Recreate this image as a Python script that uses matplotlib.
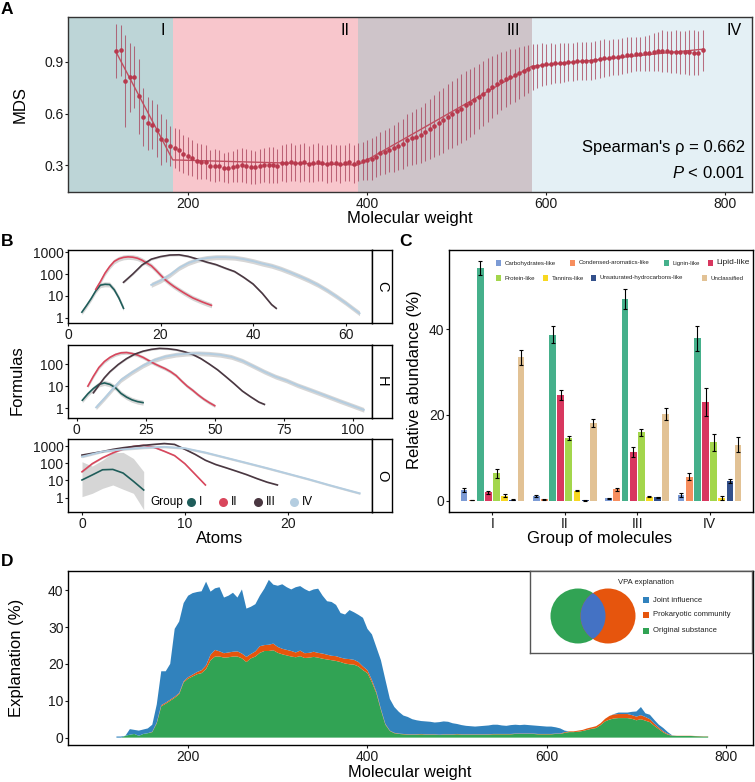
import numpy as np
import matplotlib
matplotlib.use("Agg")
import matplotlib.pyplot as plt
from matplotlib.patches import Rectangle, Circle
from matplotlib.lines import Line2D

plt.rcParams['font.family'] = ['Liberation Sans', 'DejaVu Sans']
plt.rcParams['mathtext.fontset'] = 'custom'
plt.rcParams['mathtext.rm'] = 'Liberation Sans'
plt.rcParams['mathtext.it'] = 'Liberation Sans:italic'

# ---------------- Panel A: MDS vs molecular weight ----------------
mw = np.arange(120, 776, 5)
mds = [0.964, 0.968, 0.79, 0.81, 0.813, 0.70, 0.58, 0.544, 0.536, 0.503,
       0.45, 0.445, 0.41, 0.40, 0.387, 0.362, 0.352, 0.339, 0.325, 0.32,
       0.316, 0.296, 0.296, 0.296, 0.285, 0.285, 0.29, 0.296, 0.30, 0.296,
       0.29, 0.287, 0.296, 0.30, 0.30, 0.30, 0.295, 0.31, 0.313, 0.316,
       0.313, 0.313, 0.316, 0.306, 0.31, 0.316, 0.31, 0.306, 0.31, 0.31,
       0.306, 0.31, 0.316, 0.306, 0.316, 0.323, 0.329, 0.335, 0.348, 0.368,
       0.376, 0.387, 0.397, 0.412, 0.422, 0.445, 0.455, 0.465, 0.474, 0.494,
       0.509, 0.527, 0.546, 0.561, 0.581, 0.596, 0.614, 0.629, 0.647, 0.662,
       0.678, 0.697, 0.716, 0.736, 0.755, 0.770, 0.788, 0.801, 0.813, 0.823,
       0.836, 0.848, 0.861, 0.871, 0.877, 0.883, 0.886, 0.890, 0.892, 0.894,
       0.896, 0.898, 0.902, 0.904, 0.906, 0.906, 0.908, 0.912, 0.917, 0.921,
       0.925, 0.929, 0.931, 0.935, 0.939, 0.943, 0.946, 0.948, 0.950, 0.954,
       0.958, 0.962, 0.964, 0.962, 0.958, 0.960, 0.958, 0.956, 0.956, 0.954,
       0.952, 0.968]
mds_err = [0.155, 0.15, 0.27, 0.20, 0.18, 0.22, 0.17, 0.155, 0.145, 0.155,
           0.15, 0.125, 0.115, 0.115, 0.12, 0.11, 0.11, 0.105, 0.105, 0.10,
           0.10, 0.09, 0.095, 0.09, 0.085, 0.09, 0.09, 0.095, 0.10, 0.10,
           0.10, 0.095, 0.10, 0.10, 0.105, 0.105, 0.10, 0.105, 0.11, 0.11,
           0.105, 0.11, 0.11, 0.105, 0.11, 0.11, 0.105, 0.11, 0.11, 0.105,
           0.11, 0.105, 0.11, 0.11, 0.11, 0.11, 0.115, 0.12, 0.12, 0.125,
           0.13, 0.13, 0.135, 0.14, 0.145, 0.15, 0.155, 0.16, 0.165, 0.17,
           0.175, 0.18, 0.185, 0.19, 0.19, 0.195, 0.195, 0.2, 0.2, 0.2,
           0.195, 0.19, 0.19, 0.185, 0.18, 0.175, 0.17, 0.165, 0.16, 0.155,
           0.15, 0.145, 0.14, 0.135, 0.13, 0.125, 0.12, 0.12, 0.115, 0.115,
           0.115, 0.11, 0.11, 0.11, 0.11, 0.11, 0.11, 0.11, 0.11, 0.11,
           0.105, 0.105, 0.105, 0.105, 0.105, 0.10, 0.10, 0.10, 0.10, 0.105,
           0.11, 0.115, 0.12, 0.12, 0.12, 0.125, 0.125, 0.125, 0.13, 0.13,
           0.13, 0.12]
fit_mw = [120, 183, 390, 584, 776]
fit_mds = [0.955, 0.33, 0.30, 0.875, 0.975]
region_edges = [66, 183, 390, 584, 830]
region_names = ['I', 'II', 'III', 'IV']
region_colors = ['#bdd5d7', '#f8c6cc', '#cec4c9', '#e4f0f5']
region_label_x = [174, 380, 571, 818]

# ---------------- Panel B: formulas vs atoms ----------------
group_names = ['I', 'II', 'III', 'IV']
group_colors = ['#1f5d5a', '#d9465c', '#4a3741', '#b4cde0']

C_atoms = [[3, 4, 5, 6, 7, 8, 9, 10, 11, 12],
           [6, 7, 8, 9, 10, 11, 12, 13, 14, 15, 16, 17, 18, 19, 20, 21, 22, 23, 24, 25, 26, 27, 28, 29, 30, 31],
           [12, 14, 16, 18, 20, 22, 24, 26, 28, 30, 32, 34, 36, 38, 40, 42, 44, 45],
           [18, 20, 22, 24, 26, 28, 30, 32, 34, 36, 38, 40, 42, 44, 46, 48, 50, 52, 54, 56, 58, 60, 62, 63]]
C_n = [[1.8, 3.6, 7.5, 17, 31, 34, 33, 19, 8, 2.7],
       [20, 45, 110, 220, 380, 500, 580, 610, 590, 530, 430, 320, 240, 150, 90, 55, 37, 26, 19, 14, 10.5, 8, 6.5, 5.3, 4.4, 3.7],
       [42, 100, 260, 480, 630, 740, 760, 640, 480, 350, 270, 185, 130, 70, 35, 13, 4, 2.7],
       [32, 50, 90, 190, 320, 450, 540, 590, 590, 560, 480, 390, 300, 240, 175, 120, 80, 52, 32, 18, 9.5, 4.8, 2.3, 1.6]]
H_atoms = [[2, 4, 6, 8, 10, 12, 14, 16, 18, 20, 22, 24],
           [4, 6, 8, 10, 12, 14, 16, 18, 20, 22, 24, 26, 28, 30, 32, 34, 36, 38, 40, 42, 44, 46, 48, 50],
           [6, 8, 10, 12, 15, 18, 21, 24, 27, 30, 33, 36, 39, 42, 45, 48, 51, 54, 57, 60, 63, 66, 68],
           [7, 10, 13, 16, 20, 24, 28, 32, 36, 40, 44, 48, 52, 56, 60, 64, 68, 72, 76, 80, 85, 90, 95, 100, 104]]
H_n = [[2.3, 4.5, 7.8, 12, 14, 12, 8.5, 4.7, 3.2, 2.4, 2.0, 1.8],
       [10, 28, 70, 130, 200, 270, 320, 330, 300, 255, 200, 145, 105, 80, 62, 45, 30, 17, 10, 6.5, 4, 2.6, 1.8, 1.3],
       [5, 11, 24, 45, 95, 175, 280, 380, 460, 510, 490, 440, 360, 270, 175, 100, 55, 27, 13, 6, 3.3, 1.9, 1.5],
       [1.1, 2.8, 7.5, 19, 42, 85, 150, 215, 265, 295, 305, 290, 260, 210, 140, 80, 45, 27, 18, 11, 6.5, 3.8, 2.2, 1.3, 0.85]]
O_atoms = [[0, 1, 2, 3, 4, 5, 6],
           [0, 1, 2, 3, 4, 5, 6, 7, 8, 9, 10, 11, 12],
           [0, 1, 2, 3, 4, 5, 6, 7, 8, 9, 10, 11, 12, 13, 14, 15, 16, 17, 18, 19],
           [0, 2, 4, 6, 8, 10, 12, 14, 16, 18, 20, 22, 24, 26, 27]]
O_n = [[10.7, 21, 42, 44, 27, 9, 2.8],
       [32, 95, 210, 400, 680, 950, 1100, 850, 500, 280, 95, 23, 5.5],
       [300, 380, 480, 640, 800, 950, 1100, 1250, 1400, 1250, 650, 330, 150, 85, 55, 35, 22, 13, 8, 5.5],
       [240, 480, 650, 800, 900, 750, 420, 210, 105, 52, 25, 12, 5.5, 2.6, 1.8]]
# confidence band of group I, oxygen facet
O_I_lo = [1.15, 1.8, 3.5, 5.5, 3.1, 1.8, 0.2]
O_I_hi = [123, 69, 155, 410, 430, 190, 33]
# relative half-width of the other confidence bands (factor)
C_band = [1.3, 1.3, 1.12, 1.3]
H_band = [1.3, 1.2, 1.1, 1.28]
O_band = [1.0, 1.1, 1.08, 1.15]

# ---------------- Panel C: compound classes ----------------
classes = ['Carbohydrates-like', 'Condensed-aromatics-like', 'Lignin-like', 'Lipid-like',
           'Protein-like', 'Tannins-like', 'Unsaturated-hydrocarbons-like', 'Unclassified']
class_colors = ['#7c9bd5', '#f78e5e', '#45b08b', '#d8375f', '#a3d64c', '#f8d820', '#33508b', '#e2c295']
abund = [[2.5, 1.1, 0.55, 1.3],
         [0.15, 0.4, 2.7, 5.6],
         [54.2, 38.7, 47.0, 37.8],
         [1.95, 24.6, 11.4, 23.0],
         [6.4, 14.6, 16.0, 13.6],
         [1.2, 2.4, 1.0, 0.6],
         [0.3, 0.08, 0.85, 4.6],
         [33.4, 18.1, 20.2, 13.1]]
abund_err = [[0.4, 0.15, 0.1, 0.5],
             [0.05, 0.1, 0.4, 0.8],
             [1.6, 1.9, 2.3, 2.8],
             [0.3, 1.1, 1.1, 3.3],
             [1.0, 0.5, 0.8, 1.9],
             [0.3, 0.2, 0.15, 0.5],
             [0.1, 0.02, 0.15, 0.5],
             [1.7, 0.9, 1.3, 1.7]]

# ---------------- Panel D: VPA explanation ----------------
mw_d = np.arange(120, 781, 5)
vpa_total = [0.3, 0.3, 0.2, 2.3, 2.1, 1.9, 2.2, 2.5, 3.5, 9.0,
             18.0, 18.0, 20.0, 29.5, 31.5, 36.5, 38.5, 39.2, 39.5, 39.7,
             42.3, 39.6, 40.5, 40.8, 38.0, 38.5, 39.3, 38.0, 40.2, 35.0,
             35.5, 36.2, 38.5, 40.4, 42.8, 41.5, 41.2, 41.6, 40.8, 40.2,
             40.8, 41.1, 40.3, 39.7, 40.2, 40.4, 38.5, 37.0, 36.8, 36.0,
             33.8, 33.4, 34.6, 34.0, 33.3, 32.5, 29.5, 28.0, 24.5, 21.0,
             15.7, 10.5, 8.3, 7.0, 6.0, 5.6, 5.0, 4.7, 4.5, 4.4,
             4.3, 4.1, 4.2, 4.4, 4.3, 3.9, 3.7, 3.4, 3.2, 3.1,
             3.0, 3.1, 3.2, 3.3, 3.5, 3.5, 3.3, 3.2, 3.4, 3.5,
             3.4, 3.5, 3.4, 3.3, 3.2, 3.1, 3.0, 3.0, 2.8, 2.5,
             1.9, 1.7, 1.6, 1.8, 2.0, 2.3, 2.8, 3.0, 3.6, 4.4,
             5.8, 6.4, 6.8, 6.8, 6.8, 7.0, 7.1, 8.3, 6.6, 6.2,
             4.8, 3.5, 2.6, 1.5, 0.6, 0.45, 0.45, 0.45, 0.45, 0.4,
             0.35, 0.3, 0.3]
vpa_orig = [0, 0, 0.5, 0.8, 1.0, 0.5, 1.0, 1.2, 1.5, 3.9,
            8.5, 9.2, 10.0, 10.8, 11.8, 15.0, 16.0, 16.6, 17.2, 17.5,
            18.6, 21.0, 22.0, 22.0, 21.7, 21.8, 22.0, 22.0, 21.5, 20.5,
            21.5, 22.0, 23.0, 23.5, 23.5, 23.7, 23.0, 22.6, 22.3, 22.0,
            21.8, 22.1, 21.6, 21.7, 21.9, 21.7, 21.4, 21.2, 21.0, 20.8,
            20.5, 20.1, 19.9, 19.8, 19.3, 18.3, 17.5, 15.0, 12.0, 7.5,
            3.5, 1.8, 1.2, 1.0, 0.9, 0.8, 0.8, 0.8, 0.9, 0.8,
            0.8, 0.8, 0.7, 0.8, 0.8, 0.8, 0.9, 0.8, 0.8, 0.8,
            0.8, 0.8, 0.8, 0.8, 0.9, 0.9, 0.9, 0.9, 0.9, 1.0,
            1.0, 1.0, 1.0, 1.0, 0.9, 0.9, 0.9, 0.9, 1.0, 1.0,
            1.3, 1.5, 1.5, 1.6, 1.8, 2.1, 2.4, 2.6, 3.4, 4.4,
            4.9, 5.2, 5.3, 5.3, 5.3, 5.1, 4.7, 5.0, 4.6, 4.2,
            3.2, 2.3, 1.4, 0.8, 0.5, 0.45, 0.45, 0.45, 0.45, 0.4,
            0.35, 0.3, 0.3]
vpa_prok = [0, 0, 0, 0, 0, 0, 0, 0, 0.1, 0.2,
            0.3, 0.3, 0.3, 0.3, 0.3, 0.3, 0.4, 0.5, 0.6, 0.8,
            1.0, 1.5, 1.8, 1.4, 1.2, 1.3, 1.3, 1.4, 1.3, 1.4,
            1.2, 1.4, 1.8, 1.6, 1.7, 1.8, 1.6, 1.5, 1.5, 1.5,
            1.3, 1.5, 1.3, 1.3, 1.4, 1.3, 1.4, 1.3, 1.2, 1.3,
            1.2, 1.3, 1.4, 1.3, 1.2, 1.0, 0.8, 0.6, 0.4, 0.3,
            0.2, 0.1, 0.1, 0.1, 0.1, 0.1, 0.1, 0.1, 0.1, 0.1,
            0.1, 0.1, 0.1, 0.1, 0.1, 0.1, 0.1, 0.1, 0.1, 0.1,
            0.1, 0.1, 0.1, 0.1, 0.1, 0.1, 0.1, 0.1, 0.1, 0.1,
            0.1, 0.1, 0.1, 0.1, 0.1, 0.1, 0.1, 0.1, 0.1, 0.1,
            0.2, 0.2, 0.2, 0.3, 0.3, 0.4, 0.4, 0.5, 0.5, 0.7,
            1.0, 1.1, 1.1, 1.1, 1.1, 1.0, 1.0, 1.1, 1.0, 0.8,
            0.6, 0.4, 0.3, 0.2, 0.05, 0.05, 0.05, 0.05, 0.05, 0.05,
            0.05, 0.05, 0.05]
vpa_names = ['Joint influence', 'Prokaryotic community', 'Original substance']
vpa_colors = ['#3182bd', '#e6550d', '#31a354']

# ---------------- figure ----------------
W, H = 755, 782
fig = plt.figure(figsize=(W / 100, H / 100), dpi=100)


def add_ax(l, t, r, b):
    # axes from pixel box (left, top, right, bottom)
    return fig.add_axes([l / W, 1 - b / H, (r - l) / W, (b - t) / H])


def ftext(x, y, s, **kw):
    fig.text(x / W, 1 - y / H, s, **kw)


def style(ax, color='black'):
    for s in ax.spines.values():
        s.set_color(color)
        s.set_linewidth(1.0)
    ax.tick_params(direction='out', length=2.5, width=0.8, labelsize=10,
                   colors='#1a1a1a', pad=0.8)


# ---- A ----
axA = add_ax(68, 17, 752, 192)
for i in range(4):
    axA.axvspan(region_edges[i], region_edges[i + 1], color=region_colors[i], lw=0)
    axA.text(region_label_x[i], 1.086, region_names[i], ha='right', va='center', fontsize=11.5)
axA.errorbar(mw, mds, yerr=mds_err, fmt='none', ecolor='#a8425a', elinewidth=0.75, alpha=0.75)
axA.plot(fit_mw, fit_mds, color='#c04f60', lw=1.0)
axA.plot(mw, mds, 'o', color='#b8394d', ms=3.3, mec='none')
axA.set_xlim(66, 830)
axA.set_ylim(0.143, 1.162)
axA.set_xticks([200, 400, 600, 800])
axA.set_yticks([0.3, 0.6, 0.9])
style(axA, '#333333')
axA.text(0.99, 0.257, "Spearman's ρ = 0.662", transform=axA.transAxes, ha='right', va='center', fontsize=12)
axA.text(0.99, 0.109, "$P$ < 0.001", transform=axA.transAxes, ha='right', va='center', fontsize=12)
ftext(20, 105, 'MDS', rotation=90, ha='center', va='center', fontsize=12)
ftext(410, 223, 'Molecular weight', ha='center', va='baseline', fontsize=12)

# ---- B ----
facet_box = [(250, 323), (345, 418), (439, 512)]
facet_name = ['C', 'H', 'O']
facet_atoms = [C_atoms, H_atoms, O_atoms]
facet_n = [C_n, H_n, O_n]
facet_band = [C_band, H_band, O_band]
facet_xlim = [(0, 65.7), (-3.2, 107), (-1.36, 28.2)]
facet_ylog = [(-0.24, 3.1), (-0.44, 2.86), (-0.83, 3.41)]
facet_xticks = [[0, 20, 40, 60], [0, 25, 50, 75, 100], [0, 10, 20]]
facet_yticks = [[1, 10, 100, 1000], [1, 10, 100], [1, 10, 100, 1000]]

for f in range(3):
    top, bot = facet_box[f]
    ax = add_ax(68, top, 372, bot)
    for k in range(4):
        x = np.array(facet_atoms[f][k], dtype=float)
        y = np.array(facet_n[f][k], dtype=float)
        if f == 2 and k == 0:
            lo, hi = O_I_lo, O_I_hi
        else:
            lo, hi = y / facet_band[f][k], y * facet_band[f][k]
        ax.fill_between(x, lo, hi, color='#999999', alpha=0.4, lw=0)
        ax.plot(x, y, color=group_colors[k], lw=1.2 if k < 3 else 1.4)
    ax.set_yscale('log')
    ax.set_xlim(*facet_xlim[f])
    ax.set_ylim(10 ** facet_ylog[f][0], 10 ** facet_ylog[f][1])
    ax.set_xticks(facet_xticks[f])
    ax.set_yticks(facet_yticks[f])
    ax.set_yticklabels([str(v) for v in facet_yticks[f]])
    ax.minorticks_off()
    style(ax)
    # strip on the right
    st = add_ax(372, top, 392, bot)
    st.set_xticks([])
    st.set_yticks([])
    for s in st.spines.values():
        s.set_linewidth(1.0)
    st.text(0.5, 0.5, facet_name[f], rotation=270, ha='center', va='center',
            fontsize=10.5, transform=st.transAxes)

ftext(17, 380, 'Formulas', rotation=90, ha='center', va='center', fontsize=12)
ftext(220, 543, 'Atoms', ha='center', va='baseline', fontsize=12)
# group legend inside the O facet
ftext(150, 502, 'Group', ha='left', va='center', fontsize=8.5)
leg_dot_x = [191, 223, 258, 294]
for k in range(4):
    fig.add_artist(Line2D([leg_dot_x[k] / W], [1 - 502 / H], marker='o', ms=6.5,
                          color=group_colors[k], mec='none', transform=fig.transFigure))
    ftext(leg_dot_x[k] + 8, 502, group_names[k], ha='left', va='center', fontsize=8.5)

# ---- C ----
axC = add_ax(449, 250, 753, 512)
gx = np.arange(1, 5)
for k in range(8):
    xs = gx + (k - 3.5) * 0.1125
    axC.bar(xs, abund[k], width=0.094, color=class_colors[k], lw=0)
    axC.errorbar(xs, abund[k], yerr=abund_err[k], fmt='none', ecolor='black',
                 elinewidth=0.8, capsize=1.2, capthick=0.8)
axC.set_xlim(0.4, 4.6)
axC.set_ylim(-2.6, 58.4)
axC.set_xticks(gx)
axC.set_xticklabels(group_names)
axC.set_yticks([0, 20, 40])
style(axC)
ftext(415, 380, 'Relative abundance (%)', rotation=90, ha='center', va='center', fontsize=12)
ftext(600, 543, 'Group of molecules', ha='center', va='baseline', fontsize=12)
leg_x = [496, 570, 664, 708, 496, 543, 591, 702]
leg_y = [263, 263, 263, 263, 278, 278, 278, 278]
leg_fs = [4.4, 4.4, 4.4, 6.0, 4.4, 4.4, 4.4, 4.4]
for k in range(8):
    fig.add_artist(Rectangle((leg_x[k] / W, 1 - (leg_y[k] + 2.6) / H), 5.2 / W, 5.2 / H,
                             facecolor=class_colors[k], lw=0, transform=fig.transFigure))
    ftext(leg_x[k] + 8.5, leg_y[k], classes[k], ha='left', va='center', fontsize=leg_fs[k],
          color='#222222')

# ---- D ----
axD = add_ax(68, 571, 753, 745)
orig = np.array(vpa_orig)
prok = np.array(vpa_prok)
joint = np.clip(np.array(vpa_total) - orig - prok, 0, None)
axD.stackplot(mw_d, orig, prok, joint, colors=[vpa_colors[2], vpa_colors[1], vpa_colors[0]], lw=0)
axD.set_xlim(66, 830)
axD.set_ylim(-2, 45.2)
axD.set_xticks([200, 400, 600, 800])
axD.set_yticks([0, 10, 20, 30, 40])
style(axD)
ftext(17, 658, 'Explanation (%)', rotation=90, ha='center', va='center', fontsize=12)
ftext(410, 776.5, 'Molecular weight', ha='center', va='baseline', fontsize=11.8)

# VPA legend box with venn diagram
axL = add_ax(530, 571, 752, 653)
axL.set_xlim(0, 222)
axL.set_ylim(82, 0)
axL.set_xticks([])
axL.set_yticks([])
for s in axL.spines.values():
    s.set_color('#555555')
    s.set_linewidth(1.0)
green = Circle((48, 45), 27.5, color=vpa_colors[2], lw=0)
orange = Circle((78, 45), 27.5, color=vpa_colors[1], lw=0)
axL.add_patch(green)
axL.add_patch(orange)
lens = Circle((78, 45), 27.5, color='#4472c4', lw=0)
axL.add_patch(lens)
lens.set_clip_path(green)
axL.text(116, 11, 'VPA explanation', ha='center', va='center', fontsize=5.5, color='#222222')
row_y = [29, 44, 60]
for k in range(3):
    axL.add_patch(Rectangle((113, row_y[k] - 3), 6, 6, color=vpa_colors[k], lw=0))
    axL.text(123, row_y[k], vpa_names[k], ha='left', va='center', fontsize=5.5, color='#222222')

# panel letters
for lab, (x, y) in zip('ABCD', [(7, 10), (7, 242), (406, 242), (7, 562)]):
    ftext(x, y, lab, ha='center', va='center', fontsize=12.5, fontweight='bold')

fig.savefig('out.png', dpi=100)
